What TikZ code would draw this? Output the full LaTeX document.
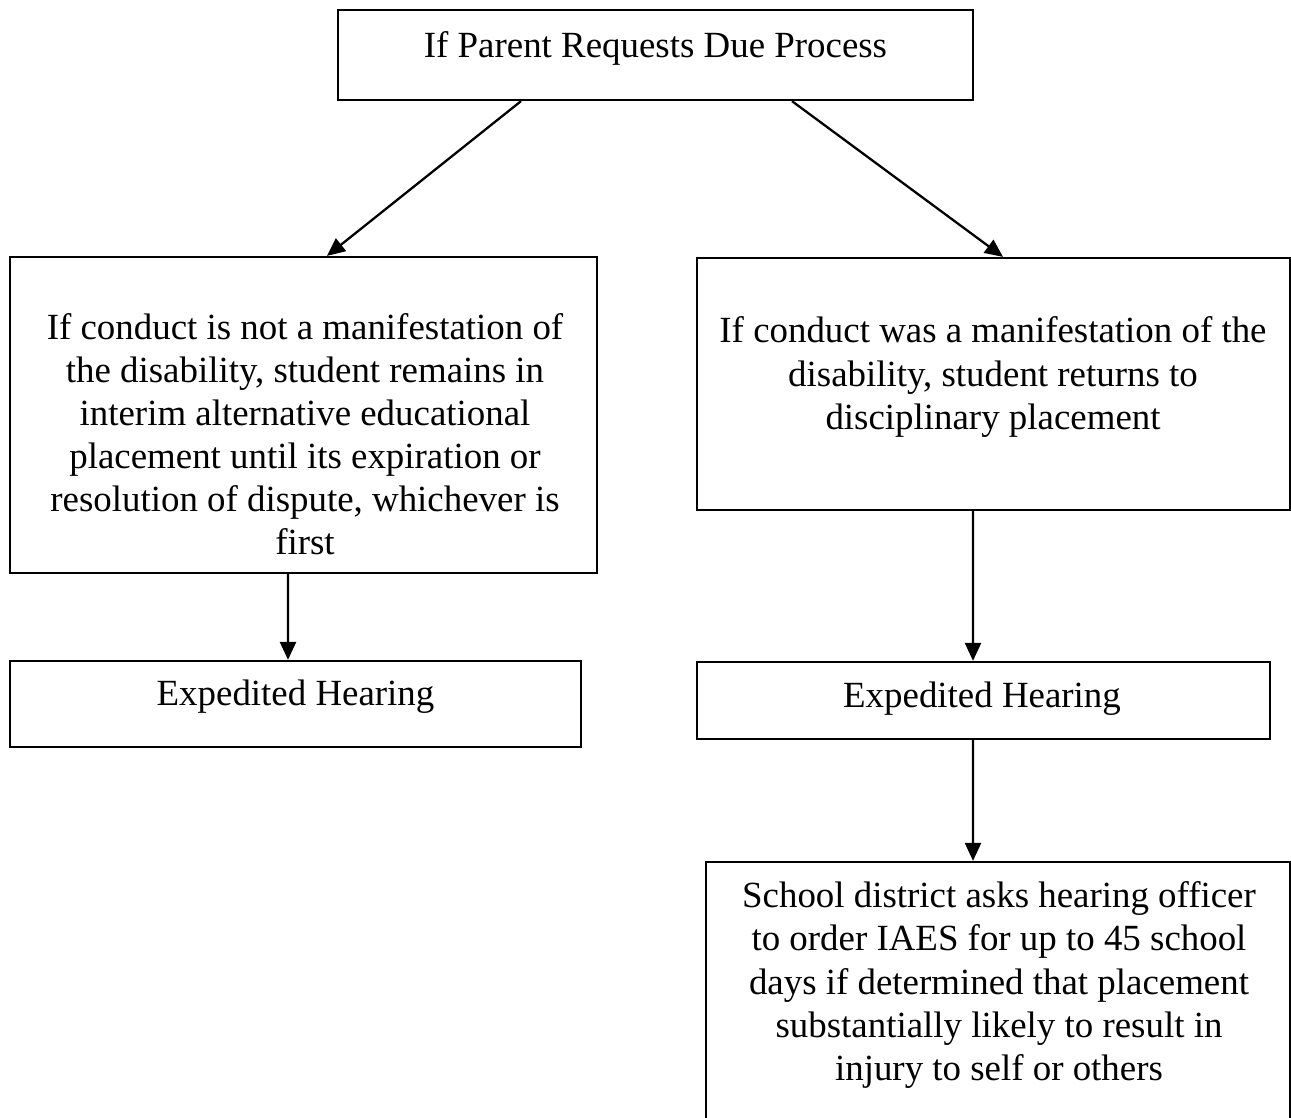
\documentclass[tikz,border=0pt]{standalone}
\usepackage{fontspec}
\setmainfont{Liberation Serif}
\usetikzlibrary{positioning,arrows.meta}

\begin{document}
\begin{tikzpicture}[
  x=0.02cm, y=-0.02cm,
  box/.style={rectangle, draw=black, line width=1.3pt, inner sep=0pt},
  txt/.style={align=center, inner sep=0pt, font=\fontsize{21}{24.5}\selectfont},
  rel/.style={-{Triangle[length=3.6mm, width=3.2mm]}, line width=1.3pt, draw=black}
]
\useasboundingbox (0,0) rectangle (1291,1118);

\node[box, minimum width=12.7cm, minimum height=1.8cm] (parent) at (655.5,55) {};
\node[box, minimum width=11.74cm, minimum height=6.32cm] (notmanif) at (303.5,415) {};
\node[box, minimum width=11.86cm, minimum height=5.04cm] (manif) at (993.5,384) {};
\node[box, minimum width=11.42cm, minimum height=1.72cm] (hearleft) at (295.5,704) {};
\node[box, minimum width=11.46cm, minimum height=1.54cm] (hearright) at (983.5,700.5) {};
\node[box, minimum width=11.68cm, minimum height=5.6cm] (iaes) at (998,1002) {};

\node[txt] (parenttext) at (655.5,48) {If Parent Requests Due Process};
\node[txt] (notmaniftext) at (305,434) {If conduct is not a manifestation of\\the disability, student remains in\\interim alternative educational\\placement until its expiration or\\resolution of dispute, whichever is\\first};
\node[txt] (maniftext) at (993,377) {If conduct was a manifestation of the\\disability, student returns to\\disciplinary placement};
\node[txt] (hearlefttext) at (295.5,697) {Expedited Hearing};
\node[txt] (hearrighttext) at (982,699) {Expedited Hearing};
\node[txt] (iaestext) at (999,985) {School district asks hearing officer\\to order IAES for up to 45 school\\days if determined that placement\\substantially likely to result in\\injury to self or others};

\draw[rel] ([xshift=-2.69cm]parent.south) -- ([xshift=0.47cm]notmanif.north);
\draw[rel] ([xshift=2.73cm]parent.south) -- ([xshift=0.19cm]manif.north);
\draw[rel] ([xshift=-0.31cm]notmanif.south) -- ([xshift=-0.15cm]hearleft.north);
\draw[rel] ([xshift=-0.41cm]manif.south) -- ([xshift=-0.21cm]hearright.north);
\draw[rel] ([xshift=-0.21cm]hearright.south) -- ([xshift=-0.5cm]iaes.north);
\end{tikzpicture}
\end{document}
